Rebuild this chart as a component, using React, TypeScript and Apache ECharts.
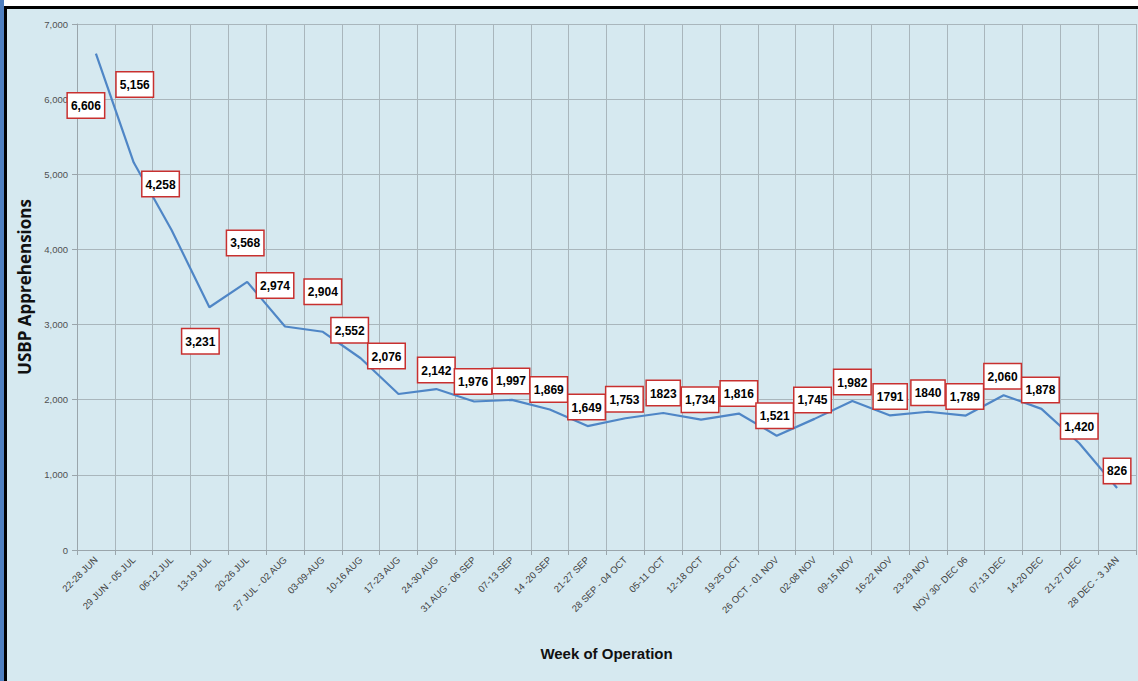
import React, { useEffect, useRef } from "react";
import * as echarts from "echarts";

const weeks: string[] = [
  "22-28 JUN", "29 JUN - 05 JUL", "06-12 JUL", "13-19 JUL", "20-26 JUL", "27 JUL - 02 AUG",
  "03-09-AUG", "10-16 AUG", "17-23 AUG", "24-30 AUG", "31 AUG - 06 SEP", "07-13 SEP",
  "14 -20 SEP", "21-27 SEP", "28 SEP - 04 OCT", "05-11 OCT", "12-18 OCT", "19-25 OCT",
  "26 OCT - 01 NOV", "02-08 NOV", "09-15 NOV", "16-22 NOV", "23-29 NOV", "NOV 30- DEC 06",
  "07-13 DEC", "14-20 DEC", "21-27 DEC", "28 DEC - 3 JAN",
];

const apprehensions: number[] = [
  6606, 5156, 4258, 3231, 3568, 2974, 2904, 2552, 2076, 2142, 1976, 1997, 1869, 1649,
  1753, 1823, 1734, 1816, 1521, 1745, 1982, 1791, 1840, 1789, 2060, 1878, 1420, 826,
];

// label text as printed on the chart
const labelTexts: string[] = [
  "6,606", "5,156", "4,258", "3,231", "3,568", "2,974", "2,904", "2,552", "2,076", "2,142",
  "1,976", "1,997", "1,869", "1,649", "1,753", "1823", "1,734", "1,816", "1,521", "1,745",
  "1,982", "1791", "1840", "1,789", "2,060", "1,878", "1,420", "826",
];

// label box centre offsets relative to the point (style, not data)
const labelShift: [number, number][] = [
  [-10, 52], [1, -78], [-11, -46], [-9, 34], [-2, -39], [-10, -41], [0, -40], [-11, -28],
  [-12, -38], [0, -19], [-1, -20], [-1, -19], [-1, -20], [-1, -19], [-1, -19], [0, -20],
  [-1, -20], [0, -20], [-2, -20], [-2, -19], [0, -19], [0, -19], [0, -19], [-1, -19],
  [-1, -19], [-1, -19], [0, -17], [0, -17],
];

const SANS = "Liberation Sans, Arial, sans-serif";

export default function App() {
  const ref = useRef<HTMLDivElement>(null);
  useEffect(() => {
    document.body.style.margin = "0";
    const chart = echarts.init(ref.current!, null, { renderer: "svg" });
    const data = apprehensions.map((v, i) => ({
      value: v,
      label: { formatter: labelTexts[i] },
    }));
    chart.setOption({
      animation: false,
      backgroundColor: "#d6e9f0",
      graphic: [
        { type: "rect", shape: { x: 0, y: 0, width: 1138, height: 6 }, style: { fill: "#ffffff" }, z: 100 },
        { type: "rect", shape: { x: 0, y: 6, width: 1138, height: 3 }, style: { fill: "#000000" }, z: 101 },
        { type: "rect", shape: { x: 0, y: 0, width: 4, height: 681 }, style: { fill: "#4f7fbf" }, z: 102 },
        { type: "rect", shape: { x: 4, y: 6, width: 3, height: 675 }, style: { fill: "#000000" }, z: 102 },
      ],
      grid: { left: 77, right: 2, top: 24, bottom: 131, containLabel: false },
      xAxis: {
        type: "category",
        data: weeks,
        boundaryGap: true,
        name: "Week of Operation",
        nameLocation: "middle",
        nameGap: 96,
        nameTextStyle: {
          fontFamily: SANS,
          fontWeight: "bold",
          fontSize: 15,
          color: "#111",
        },
        axisLine: { show: true, lineStyle: { color: "#9aa5ab", width: 1 } },
        axisTick: { show: true, length: 5, lineStyle: { color: "#9aa5ab" } },
        axisLabel: {
          interval: 0,
          rotate: 45,
          margin: 8,
          fontSize: 9.5,
          color: "#404040",
          fontFamily: SANS,
        },
        splitLine: { show: true, lineStyle: { color: "#a9b6bc", width: 1 } },
      },
      yAxis: {
        type: "value",
        min: 0,
        max: 7000,
        interval: 1000,
        name: "USBP Apprehensions",
        nameLocation: "middle",
        nameGap: 35,
        nameTextStyle: {
          fontFamily: "Open Sans, DejaVu Sans, sans-serif",
          fontWeight: "bold",
          fontSize: 17,
          color: "#111",
        },
        axisLine: { show: true, lineStyle: { color: "#9aa5ab", width: 1 } },
        axisTick: { show: true, length: 5, lineStyle: { color: "#9aa5ab" } },
        axisLabel: {
          margin: 9,
          fontSize: 9.5,
          color: "#505050",
          fontFamily: SANS,
          formatter: (v: number) => v.toLocaleString("en-US"),
        },
        splitLine: { show: true, lineStyle: { color: "#a9b6bc", width: 1 } },
      },
      series: [
        {
          type: "line",
          data,
          showSymbol: true,
          showAllSymbol: true,
          symbol: "circle",
          symbolSize: 2,
          itemStyle: { color: "rgba(0,0,0,0)", borderWidth: 0 },
          lineStyle: { color: "#4f86c6", width: 2.2 },
          label: {
            show: true,
            position: "top",
            distance: 0,
            fontFamily: SANS,
            fontWeight: "bold",
            fontSize: 12,
            lineHeight: 15,
            color: "#000",
            backgroundColor: "#ffffff",
            borderColor: "#c8302f",
            borderWidth: 1.5,
            padding: [5, 3, 4, 3],
          },
          labelLayout: (p: any) => {
            const s = labelShift[p.dataIndex] || [0, 0];
            return { dx: s[0], dy: s[1] + 13, hideOverlap: false };
          },
          z: 5,
        },
      ],
    });
    return () => chart.dispose();
  }, []);
  return <div ref={ref} style={{ position: "fixed", left: 0, top: 0, width: 1138, height: 681 }} />;
}
